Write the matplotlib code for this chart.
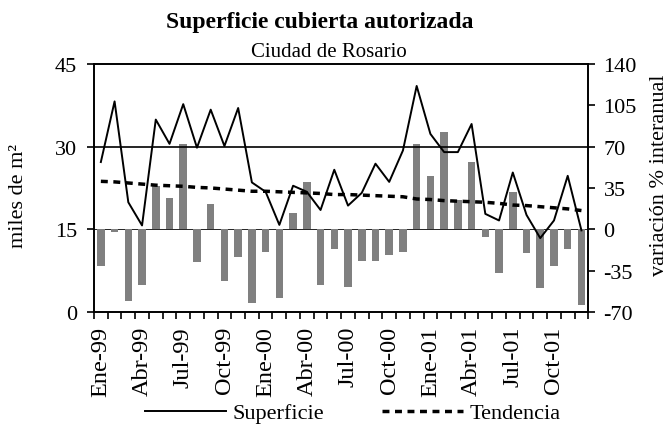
import matplotlib
matplotlib.use("Agg")
import matplotlib.pyplot as plt
import numpy as np

plt.rcParams['font.family'] = ['Liberation Serif', 'DejaVu Serif']
plt.rcParams['axes.unicode_minus'] = False

# meses Ene-99 .. Dic-01
meses = ['Ene-99', 'Feb-99', 'Mar-99', 'Abr-99', 'May-99', 'Jun-99', 'Jul-99', 'Ago-99', 'Sep-99',
         'Oct-99', 'Nov-99', 'Dic-99', 'Ene-00', 'Feb-00', 'Mar-00', 'Abr-00', 'May-00', 'Jun-00',
         'Jul-00', 'Ago-00', 'Sep-00', 'Oct-00', 'Nov-00', 'Dic-00', 'Ene-01', 'Feb-01', 'Mar-01',
         'Abr-01', 'May-01', 'Jun-01', 'Jul-01', 'Ago-01', 'Sep-01', 'Oct-01', 'Nov-01', 'Dic-01']

# miles de m2
superficie = [27.2, 38.2, 19.9, 15.7, 34.9, 30.5, 37.7, 29.8, 36.7, 30.1, 37.0, 23.5,
              21.8, 15.8, 22.9, 21.8, 18.5, 25.8, 19.3, 21.6, 26.9, 23.6, 29.3, 41.0,
              32.3, 29.0, 29.0, 34.1, 17.8, 16.6, 25.3, 17.6, 13.4, 16.6, 24.7, 14.8]

tendencia = [23.7, 23.6, 23.4, 23.2, 23.0, 22.9, 22.8, 22.6, 22.5, 22.3, 22.1, 21.9,
             21.9, 21.8, 21.7, 21.6, 21.5, 21.3, 21.3, 21.2, 21.1, 21.0, 20.9, 20.5,
             20.4, 20.2, 20.1, 20.0, 19.9, 19.7, 19.4, 19.3, 19.1, 18.9, 18.7, 18.4]

# variacion % interanual
variacion = [-31.3, -2.5, -60.4, -46.9, 37.0, 26.5, 72.3, -27.9, 21.5, -43.5, -23.1, -62.4,
             -19.5, -58.4, 13.5, 40.4, -46.9, -16.7, -48.5, -26.5, -26.5, -21.5, -19.5, 72.3,
             45.4, 82.7, 24.8, 57.3, -6.2, -37.0, 31.9, -20.0, -50.0, -31.3, -16.7, -63.8]

x = np.arange(len(meses))

fig = plt.figure(figsize=(6.68, 4.27), dpi=100)
ax = fig.add_axes([0.1407, 0.267, 0.740, 0.581])
ax2 = ax.twinx()

# barras al fondo
ax2.bar(x, variacion, width=0.55, color='#808080', zorder=2)
ax2.axhline(0, color='black', linewidth=0.6, zorder=1)
ax2.set_ylim(-70, 140)
ax2.set_yticks([-70, -35, 0, 35, 70, 105, 140])

ax.set_zorder(ax2.get_zorder() + 1)
ax.patch.set_visible(False)

ax.axhline(30, color='black', linewidth=1.2, zorder=1)
l1, = ax.plot(x, superficie, color='black', linewidth=1.4, label='Superficie')
l2, = ax.plot(x, tendencia, color='black', linewidth=2.5, linestyle=(0, (2.0, 1.6)), label='Tendencia')
ax.set_ylim(0, 45)
ax.set_yticks([0, 15, 30, 45])
ax.set_xlim(-0.5, len(meses) - 0.5)

ax.set_xticks(np.arange(-0.5, len(meses), 1), minor=True)
ax.set_xticks(x[::3])
ax.set_xticklabels(meses[::3], rotation=90, fontsize=17.5)
ax.tick_params(axis='x', which='major', length=0, pad=10)
ax.tick_params(axis='x', which='minor', length=5, width=1.2, direction='out')
ax.tick_params(axis='y', labelsize=16, length=5, width=1.2, direction='out', pad=7)
ax2.tick_params(axis='y', labelsize=16, length=5, width=1.2, direction='out', pad=6)

for a in (ax, ax2):
    for s in a.spines.values():
        s.set_linewidth(1.2)

# titulos de ejes
fig.text(0.027, 0.54, 'miles de m²', rotation=90, ha='center', va='center', fontsize=16)
fig.text(0.987, 0.59, 'variación % interanual', rotation=90, ha='center', va='center', fontsize=16)

fig.text(0.479, 0.948, 'Superficie cubierta autorizada', ha='center', va='center',
         fontsize=17, fontweight='bold')
fig.text(0.493, 0.878, 'Ciudad de Rosario', ha='center', va='center', fontsize=15)

fig.legend(handles=[l1, l2], loc='center', bbox_to_anchor=(0.528, 0.03), ncol=2,
           frameon=False, fontsize=16, handlelength=3.65, columnspacing=2.6, handletextpad=0.3)

fig.savefig('out.png', dpi=100)
